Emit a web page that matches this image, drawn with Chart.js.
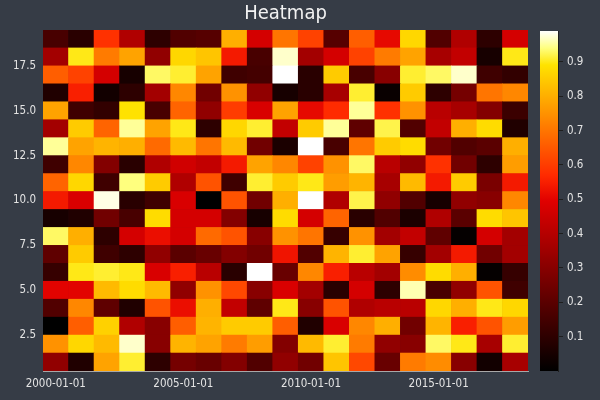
<!DOCTYPE html>
<html>
<head>
<meta charset="utf-8">
<script src="https://cdn.jsdelivr.net/npm/chart.js@4/dist/chart.umd.min.js"></script>
<style>
  body { margin: 0; background: #363c46; }
  #wrap { position: relative; width: 600px; height: 400px; background: #363c46; }
  #heat { position: absolute; left: 0; top: 0; }
  #cbar { position: absolute; left: 530px; top: 0; }
</style>
</head>
<body>
<div id="wrap">
  <canvas id="heat" width="600" height="400"></canvas>
  <canvas id="cbar" width="70" height="400"></canvas>
</div>
<script>
// years on the x axis, one cell per year
var years = ['2000-01-01','2001-01-01','2002-01-01','2003-01-01','2004-01-01','2005-01-01','2006-01-01',
             '2007-01-01','2008-01-01','2009-01-01','2010-01-01','2011-01-01','2012-01-01','2013-01-01',
             '2014-01-01','2015-01-01','2016-01-01','2017-01-01','2018-01-01'];
var xTickLabels = ['2000-01-01','2005-01-01','2010-01-01','2015-01-01'];
var yTicks = [2.5, 5.0, 7.5, 10.0, 12.5, 15.0, 17.5];
var cbarTicks = [0.1, 0.2, 0.3, 0.4, 0.5, 0.6, 0.7, 0.8, 0.9];

// cell values, one array per y row (row1 = bottom)
var row1  = [0.32,0.07,0.78,0.91,0.10,0.26,0.23,0.29,0.18,0.32,0.25,0.84,0.62,0.23,0.71,0.74,0.30,0.04,0.37];
var row2  = [0.75,0.87,0.82,0.97,0.30,0.81,0.78,0.71,0.77,0.29,0.82,0.91,0.71,0.32,0.30,0.93,0.90,0.37,0.91];
var row3  = [0.00,0.66,0.86,0.39,0.30,0.66,0.81,0.85,0.85,0.66,0.07,0.48,0.73,0.80,0.25,0.81,0.55,0.64,0.77];
var row4  = [0.18,0.73,0.21,0.07,0.64,0.52,0.80,0.43,0.21,0.90,0.30,0.64,0.39,0.41,0.41,0.87,0.80,0.90,0.87];
var row5  = [0.50,0.50,0.82,0.88,0.82,0.32,0.75,0.62,0.30,0.48,0.36,0.09,0.47,0.10,0.96,0.16,0.32,0.64,0.14];
var row6  = [0.12,0.90,0.91,0.90,0.48,0.55,0.41,0.09,0.99,0.23,0.73,0.55,0.41,0.36,0.74,0.88,0.80,0.01,0.12];
var row7  = [0.21,0.85,0.14,0.10,0.32,0.20,0.23,0.29,0.25,0.53,0.18,0.81,0.91,0.78,0.12,0.36,0.54,0.25,0.36];
var row8  = [0.93,0.80,0.10,0.47,0.52,0.47,0.68,0.64,0.30,0.75,0.70,0.12,0.75,0.36,0.43,0.21,0.01,0.47,0.36];
var row9  = [0.05,0.07,0.25,0.16,0.88,0.47,0.47,0.29,0.05,0.88,0.47,0.67,0.09,0.18,0.06,0.39,0.20,0.88,0.84];
var row10 = [0.54,0.48,0.98,0.09,0.14,0.48,0.00,0.64,0.25,0.80,0.99,0.39,0.92,0.32,0.18,0.05,0.32,0.30,0.73];
var row11 = [0.67,0.87,0.14,0.94,0.85,0.39,0.64,0.14,0.91,0.85,0.90,0.77,0.81,0.37,0.82,0.54,0.85,0.27,0.54];
var row12 = [0.14,0.73,0.29,0.09,0.39,0.46,0.43,0.54,0.78,0.73,0.61,0.75,0.93,0.41,0.32,0.58,0.25,0.10,0.77];
var row13 = [0.95,0.78,0.81,0.80,0.68,0.82,0.70,0.82,0.25,0.06,0.99,0.16,0.70,0.85,0.88,0.25,0.18,0.20,0.80];
var row14 = [0.36,0.85,0.67,0.95,0.78,0.90,0.10,0.87,0.91,0.43,0.85,0.95,0.21,0.92,0.18,0.43,0.80,0.88,0.07];
var row15 = [0.78,0.14,0.11,0.89,0.16,0.67,0.32,0.60,0.48,0.78,0.51,0.57,0.95,0.58,0.75,0.41,0.37,0.29,0.13];
var row16 = [0.07,0.55,0.04,0.10,0.36,0.73,0.25,0.75,0.32,0.05,0.09,0.37,0.91,0.02,0.85,0.10,0.26,0.70,0.73];
var row17 = [0.66,0.61,0.47,0.05,0.93,0.91,0.78,0.14,0.15,0.99,0.09,0.85,0.16,0.30,0.91,0.93,0.97,0.14,0.11];
var row18 = [0.36,0.90,0.71,0.78,0.32,0.87,0.84,0.54,0.16,0.97,0.36,0.47,0.61,0.71,0.78,0.37,0.43,0.05,0.90];
var row19 = [0.16,0.09,0.58,0.39,0.10,0.18,0.19,0.80,0.47,0.70,0.61,0.19,0.66,0.51,0.87,0.18,0.39,0.10,0.47];
var rows = [row1,row2,row3,row4,row5,row6,row7,row8,row9,row10,row11,row12,row13,row14,row15,row16,row17,row18,row19];

var all = [].concat.apply([], rows);
var vmin = Math.min.apply(null, all);
var vmax = Math.max.apply(null, all);

function clamp(v){ return Math.max(0, Math.min(1, v)); }
// black -> red -> yellow -> white
function hot(t){
    var r = clamp(t / 0.57), g = clamp((t - 0.5) / 0.45), b = clamp((t - 0.9) / 0.1);
    return 'rgb(' + Math.round(r*255) + ',' + Math.round(g*255) + ',' + Math.round(b*255) + ')';
}
function colorOf(v){ return hot((v - vmin) / (vmax - vmin)); }

var FONT = 'DejaVu Sans Condensed, DejaVu Sans, sans-serif';
var TXT = '#e4e4e4';

var datasets = rows.map(function(r, i){
    var y = i + 1;
    return {
        label: 'y' + y,
        data: r.map(function(){ return [y - 0.5, y + 0.5]; }),
        backgroundColor: r.map(colorOf),
        borderWidth: 0,
        barPercentage: 1,
        categoryPercentage: 1
    };
});

new Chart(document.getElementById('heat'), {
    type: 'bar',
    data: { labels: years, datasets: datasets },
    options: {
        responsive: false,
        animation: false,
        layout: { padding: { left: 0, right: 72, top: 0, bottom: 0 } },
        plugins: {
            legend: { display: false },
            tooltip: { enabled: false },
            title: {
                display: true, text: 'Heatmap', color: '#f2f2f2', fullSize: false,
                font: { family: FONT, size: 20, weight: 'normal' },
                padding: { top: 2, bottom: 4 }
            }
        },
        scales: {
            x: {
                z: 1,
                stacked: true,
                grid: { display: false, drawTicks: false },
                border: { display: true, color: '#a8a8a8', width: 1 },
                ticks: {
                    color: TXT, font: { family: FONT, size: 11.5 }, padding: 6,
                    autoSkip: false, maxRotation: 0,
                    callback: function(v){
                        var l = this.getLabelForValue(v);
                        return xTickLabels.indexOf(l) >= 0 ? l : '';
                    }
                },
                afterFit: function(s){ s.height = 29; }
            },
            y: {
                z: 1,
                type: 'linear', min: 0.5, max: 19.5, stacked: false,
                grid: { display: false, drawTicks: false },
                border: { display: true, color: '#a8a8a8', width: 1 },
                ticks: {
                    color: TXT, font: { family: FONT, size: 11.5 }, padding: 7,
                    callback: function(v){ return v.toFixed(1); }
                },
                afterBuildTicks: function(s){ s.ticks = yTicks.map(function(v){ return { value: v }; }); },
                afterFit: function(s){ s.width = 43; }
            }
        }
    }
});

// colour bar
new Chart(document.getElementById('cbar'), {
    type: 'bar',
    data: {
        labels: ['c'],
        datasets: [{
            data: [[vmin, vmax]],
            barPercentage: 1, categoryPercentage: 1, borderWidth: 0,
            backgroundColor: function(ctx){
                var a = ctx.chart.chartArea;
                if(!a){ return '#000'; }
                var g = ctx.chart.ctx.createLinearGradient(0, a.bottom, 0, a.top);
                for(var i = 0; i <= 40; i++){ g.addColorStop(i/40, hot(i/40)); }
                return g;
            }
        }]
    },
    options: {
        responsive: false,
        animation: false,
        layout: { padding: { left: 10, right: 0, top: 31, bottom: 29 } },
        plugins: { legend: { display: false }, tooltip: { enabled: false } },
        scales: {
            x: { display: false },
            y: {
                position: 'right', min: vmin, max: vmax,
                grid: { drawOnChartArea: false, drawTicks: true, tickLength: 5, color: '#1e1e1e' },
                border: { display: true, color: '#1e1e1e' },
                ticks: {
                    color: TXT, font: { family: FONT, size: 11.5 }, padding: 4,
                    callback: function(v){ return v.toFixed(1); }
                },
                afterBuildTicks: function(s){ s.ticks = cbarTicks.map(function(v){ return { value: v }; }); },
                afterFit: function(s){ s.width = 42; }
            }
        }
    }
});
</script>
</body>
</html>
